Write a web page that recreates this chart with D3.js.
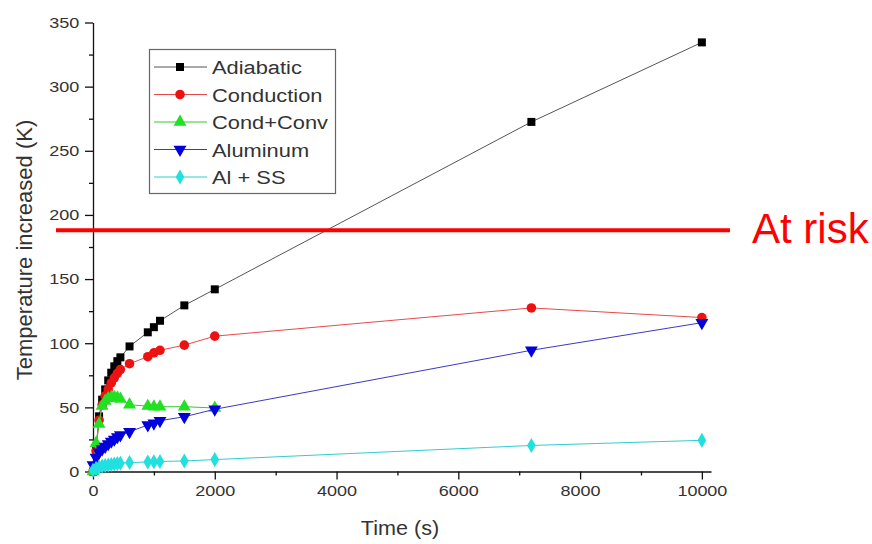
<!DOCTYPE html>
<html>
<head>
<meta charset="utf-8">
<script src="https://cdn.jsdelivr.net/npm/d3@7"></script>
<style>
  html, body { margin: 0; padding: 0; background: #fff; }
  svg { display: block; font-family: "Liberation Sans", Arial, sans-serif; }
</style>
</head>
<body>
<svg id="chart" width="872" height="544"></svg>
<script>
// ---- data ----
const times = [0, 50, 100, 150, 200, 250, 300, 350, 400, 450, 600, 900, 1000, 1100, 1500, 2000, 7200, 10000];
const adiabatic  = [0, 18, 43, 56, 64, 71, 77, 82, 86, 89, 97.5, 108.5, 112.5, 117.5, 129.5, 142, 272.5, 334.5];
const conduction = [0, 16, 40, 52, 59, 64, 69, 73, 76.5, 79.5, 84, 89.5, 92.5, 94.5, 98.5, 105.5, 127.5, 120];
const condConv   = [0, 22, 37, 51, 55, 57, 58, 58, 57.5, 56.5, 52, 51, 50.5, 50.5, 50.5, 49.5];
const aluminum   = [5, 11, 15, 17.5, 19.5, 21.5, 23.5, 25, 27, 28.5, 31, 36.2, 37.6, 39.6, 42.7, 48.5, 94.5, 116];
const alSS       = [1, 2.5, 3.5, 4.2, 4.7, 5.1, 5.5, 5.8, 6.1, 6.4, 7, 7.4, 7.6, 7.8, 8.2, 9.3, 20.3, 24.3];
const seriesNames = ["Adiabatic", "Conduction", "Cond+Conv", "Aluminum", "Al + SS"];
const xTicks = [0, 2000, 4000, 6000, 8000, 10000];
const xMinorTicks = [1000, 3000, 5000, 7000, 9000];
const yTicks = [0, 50, 100, 150, 200, 250, 300, 350];
const yMinorTicks = [25, 75, 125, 175, 225, 275, 325];
const riskLevel = 188;
const riskLabel = "At risk";

// ---- styles ----
const styles = [
  { line: "#555555", fill: "#000000", sym: d3.symbolSquare, size: 64 },
  { line: "#e84a4a", fill: "#ee1111", sym: d3.symbolCircle, size: 72 },
  { line: "#33cc33", fill: "#22e022", sym: d3.symbolTriangle, size: 72 },
  { line: "#3a3ac0", fill: "#0000dd", sym: d3.symbolTriangle, size: 72, rot: 180 },
  { line: "#33cccc", fill: "#22e0e0", sym: d3.symbolDiamond, size: 66 }
];
const seriesValues = [adiabatic, conduction, condConv, aluminum, alSS];

const svg = d3.select("#chart");
const x = d3.scaleLinear().domain([0, 10150]).range([93, 711]);
const y = d3.scaleLinear().domain([0, 350]).range([471.5, 22.5]);
const stretch = 1.2;

// axes
const gx = svg.append("g").attr("transform", `translate(0,${y(0)})`)
  .call(d3.axisBottom(x).tickValues(xTicks).tickSize(8).tickSizeOuter(0).tickPadding(6).tickFormat(d3.format("d")));
svg.append("g").attr("transform", `translate(0,${y(0)})`)
  .call(d3.axisBottom(x).tickValues(xMinorTicks).tickSize(4).tickSizeOuter(0).tickFormat(""))
  .select(".domain").remove();
const gy = svg.append("g").attr("transform", `translate(${x(0)},0)`)
  .call(d3.axisLeft(y).tickValues(yTicks).tickSize(8).tickSizeOuter(0).tickPadding(3.5));
svg.append("g").attr("transform", `translate(${x(0)},0)`)
  .call(d3.axisLeft(y).tickValues(yMinorTicks).tickSize(4).tickSizeOuter(0).tickFormat(""))
  .select(".domain").remove();

svg.selectAll(".domain, .tick line").attr("stroke", "#111").attr("stroke-width", 1.3);
[gx, gy].forEach(g => g.selectAll(".tick text")
  .attr("font-size", 15).attr("fill", "#333")
  .attr("font-family", "Liberation Sans, Arial, sans-serif")
  .attr("transform", `scale(${stretch},1)`));
gy.selectAll(".tick text").attr("x", -11.5 / 1);

// series
const plot = svg.append("g");
seriesValues.forEach((vals, i) => {
  const st = styles[i];
  const pts = vals.map((v, j) => [times[j], v]);
  plot.append("path")
    .datum(pts)
    .attr("fill", "none")
    .attr("stroke", st.line)
    .attr("stroke-width", 1)
    .attr("d", d3.line().x(d => x(d[0])).y(d => y(d[1])));
  const sym = d3.symbol().type(st.sym).size(st.size);
  plot.selectAll(null).data(pts).enter().append("path")
    .attr("d", sym)
    .attr("fill", st.fill)
    .attr("transform", d => `translate(${x(d[0])},${y(d[1])})` + (st.rot ? ` rotate(${st.rot})` : ""));
});

// legend
const lg = svg.append("g");
lg.append("rect").attr("x", 149.5).attr("y", 49.5).attr("width", 186).attr("height", 144)
  .attr("fill", "#fff").attr("stroke", "#666").attr("stroke-width", 1.2);
seriesNames.forEach((name, i) => {
  const st = styles[i];
  const ry = 67 + i * 27.5;
  lg.append("line").attr("x1", 154).attr("x2", 207).attr("y1", ry).attr("y2", ry)
    .attr("stroke", st.line).attr("stroke-width", 1);
  lg.append("path").attr("d", d3.symbol().type(st.sym).size(st.size)())
    .attr("fill", st.fill)
    .attr("transform", `translate(180,${ry})` + (st.rot ? ` rotate(${st.rot})` : ""));
  lg.append("text").attr("transform", `translate(212,${ry + 7}) scale(1.15,1)`)
    .attr("font-size", 19).attr("fill", "#333").text(name);
});

// axis titles
svg.append("text").attr("transform", `translate(400,535) scale(1.08,1)`)
  .attr("text-anchor", "middle").attr("font-size", 20).attr("fill", "#333").text("Time (s)");
svg.append("text").attr("transform", `translate(32,250) rotate(-90)`)
  .attr("text-anchor", "middle").attr("font-size", 22).attr("fill", "#333").text("Temperature increased (K)");

// risk line
svg.append("line").attr("x1", 56).attr("x2", 730).attr("y1", y(riskLevel)).attr("y2", y(riskLevel))
  .attr("stroke", "#ff0000").attr("stroke-width", 4);
svg.append("text").attr("x", 752).attr("y", 243).attr("font-size", 42).attr("fill", "#ff0000").text(riskLabel);
</script>
</body>
</html>
